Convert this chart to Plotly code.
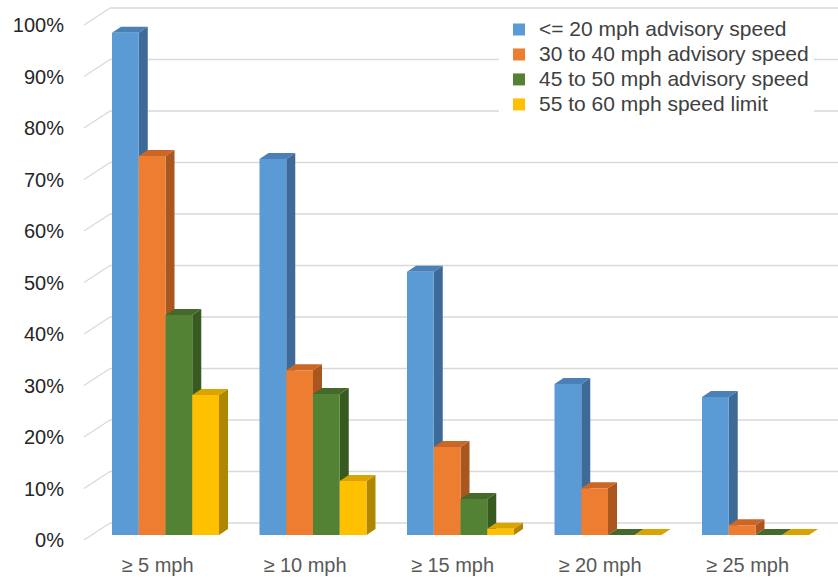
import plotly.graph_objects as go

# ---- data -------------------------------------------------------------
categories = ["≥ 5 mph", "≥ 10 mph", "≥ 15 mph", "≥ 20 mph", "≥ 25 mph"]
series_names = [
    "<= 20 mph advisory speed",
    "30 to 40 mph advisory speed",
    "45 to 50 mph advisory speed",
    "55 to 60 mph speed limit",
]
le20_advisory = [97.5, 73.0, 51.1, 29.3, 26.8]
adv_30_40 = [73.6, 32.0, 17.1, 9.1, 1.9]
adv_45_50 = [42.7, 27.4, 7.0, 0.0, 0.0]
limit_55_60 = [27.2, 10.5, 1.2, 0.0, 0.0]
tick_values = [0, 10, 20, 30, 40, 50, 60, 70, 80, 90, 100]
tick_labels = [f"{v}%" for v in tick_values]

series_values = [le20_advisory, adv_30_40, adv_45_50, limit_55_60]

# ---- styling ----------------------------------------------------------
front_colors = ["#5B9BD5", "#ED7D31", "#548235", "#FFC000"]
top_colors = ["#4A80B6", "#CB6627", "#44692B", "#D9A400"]
side_colors = ["#3D6A96", "#A9561F", "#375A21", "#B08600"]

W, H = 838, 578
PLOT_L, PLOT_R = 110, 838          # plot area, pixels
PLOT_T, PLOT_B = 5, 545
BASE_PX = 535                      # pixel row of the bar bases
PX_PER_PCT = 5.15
PX_PER_CAT = 147.5
FIRST_CENTER_PX = 165.5

# perspective offsets (pixels) converted to axis units
DEPTH_DX = 9 / PX_PER_CAT
DEPTH_DY = 6 / PX_PER_PCT
WALL_DY = 12 / PX_PER_PCT          # back wall sits above the bar bases
LABEL_DY = 5 / PX_PER_PCT          # value labels sit on the front edge

y_min = (BASE_PX - PLOT_B) / PX_PER_PCT
y_max = (BASE_PX - PLOT_T) / PX_PER_PCT
x_min = -(FIRST_CENTER_PX - PLOT_L) / PX_PER_CAT
x_max = x_min + (PLOT_R - PLOT_L) / PX_PER_CAT

group_width = 107 / PX_PER_CAT
bar_w = group_width / len(series_values)

FONT = "Liberation Sans, Arial, sans-serif"

fig = go.Figure()
shapes = []

# back-wall gridlines
for v in tick_values:
    shapes.append(dict(
        type="line", xref="paper", yref="y", x0=0, x1=1,
        y0=v + WALL_DY, y1=v + WALL_DY,
        line=dict(color="#D9D9D9", width=1.3), layer="below",
    ))
    # side-wall diagonal from the label edge to the back wall
    shapes.append(dict(
        type="line", xref="paper", yref="y",
        xsizemode="pixel", xanchor=0, x0=-26, x1=0,
        y0=v - LABEL_DY, y1=v + WALL_DY,
        line=dict(color="#D9D9D9", width=1.3), layer="below",
    ))

xs = list(range(len(categories)))
for i, (name, vals) in enumerate(zip(series_names, series_values)):
    offset = -group_width / 2 + i * bar_w
    fig.add_trace(go.Bar(
        x=xs, y=vals,
        # legend rows are tight while the lettering is wide
        name=f"<span style='font-size:21px'>{name}</span>",
        width=bar_w, offset=offset,
        marker=dict(color=front_colors[i], line=dict(width=0)),
        hoverinfo="skip",
    ))

# 3-D side and top faces, drawn left to right so nearer faces overlap
for c in xs:
    for i, vals in enumerate(series_values):
        v = vals[c]
        xl = c - group_width / 2 + i * bar_w
        xr = xl + bar_w
        side = (f"M{xr},0 L{xr},{v} L{xr + DEPTH_DX},{v + DEPTH_DY} "
                f"L{xr + DEPTH_DX},{DEPTH_DY} Z")
        top = (f"M{xl},{v} L{xr},{v} L{xr + DEPTH_DX},{v + DEPTH_DY} "
               f"L{xl + DEPTH_DX},{v + DEPTH_DY} Z")
        shapes.append(dict(type="path", xref="x", yref="y", path=side,
                           fillcolor=side_colors[i], line=dict(width=0),
                           layer="between"))
        shapes.append(dict(type="path", xref="x", yref="y", path=top,
                           fillcolor=top_colors[i], line=dict(width=0),
                           layer="between"))

legend_x_px, legend_top_px = 499, 12
fig.update_layout(
    width=W, height=H,
    margin=dict(l=PLOT_L, r=W - PLOT_R, t=PLOT_T, b=H - PLOT_B, pad=0),
    paper_bgcolor="white", plot_bgcolor="white",
    barmode="overlay",
    shapes=shapes,
    font=dict(family=FONT, size=20, color="#404040"),
    showlegend=True,
    legend=dict(
        x=(legend_x_px - PLOT_L) / (PLOT_R - PLOT_L),
        y=(PLOT_B - legend_top_px) / (PLOT_B - PLOT_T),
        xanchor="left", yanchor="top",
        bgcolor="white", borderwidth=0,
        font=dict(family=FONT, size=16.9, color="#404040"),
        tracegroupgap=0, itemclick=False,
    ),
    xaxis=dict(
        range=[x_min, x_max], tickmode="array", tickvals=xs,
        ticktext=categories, showgrid=False, zeroline=False,
        showline=False, ticks="", ticklabelstandoff=6, ticklabelshift=-8,
        tickfont=dict(family=FONT, size=20, color="#595959"),
    ),
    yaxis=dict(
        range=[y_min, y_max], tickmode="array",
        tickvals=[v - LABEL_DY for v in tick_values], ticktext=tick_labels,
        showgrid=False, zeroline=False, showline=False, ticks="",
        ticklabelstandoff=45,
        tickfont=dict(family=FONT, size=20, color="#262626"),
    ),
)

fig.write_html("out.html")
